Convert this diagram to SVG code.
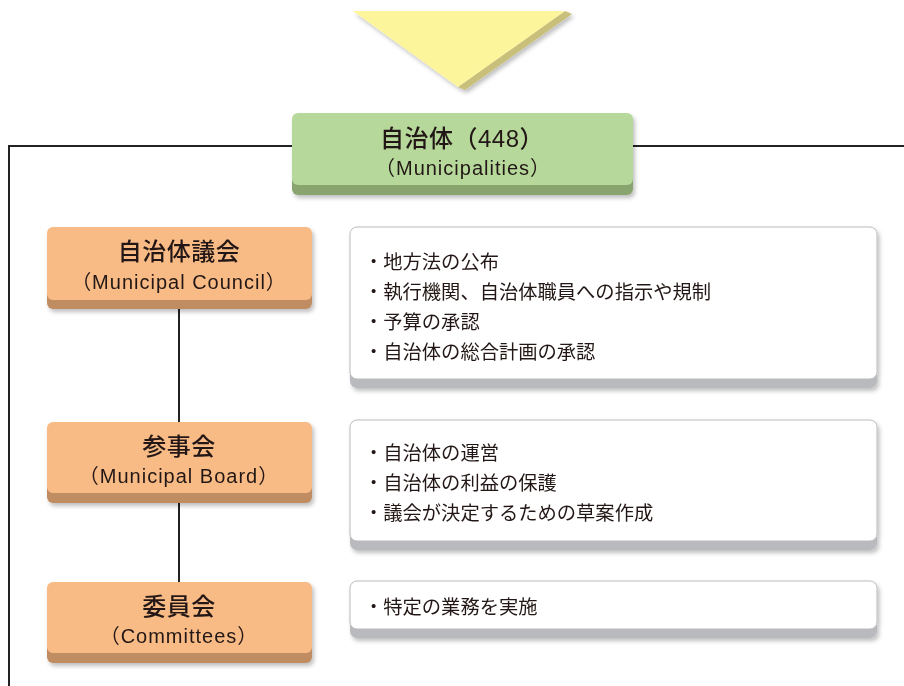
<svg xmlns="http://www.w3.org/2000/svg" width="904" height="686" viewBox="0 0 904 686">
<defs>
<filter id="ds" x="-10%" y="-20%" width="120%" height="150%">
<feDropShadow dx="2" dy="3" stdDeviation="2" flood-color="#000" flood-opacity="0.25"/>
</filter>
<style>
text{font-family:"Noto Sans CJK JP","Noto Sans",sans-serif;fill:#231815;text-anchor:middle;dominant-baseline:central}
.t1{font-size:24px;font-weight:500;font-family:"Liberation Sans","Noto Sans CJK JP",sans-serif;letter-spacing:0.5px}
.t2{font-size:20px;font-family:"Liberation Sans","Noto Sans CJK JP",sans-serif;letter-spacing:1px}
.li{font-size:19.3px;text-anchor:start}
.ln{stroke:#222;stroke-width:2;fill:none}
.gf{fill:#b6d99b}
.gs{fill:#89a46e}
.of{fill:#f8bb86}
.os{fill:#c08d64}
.wf{fill:#fff;stroke:#bbb;stroke-width:1}
.ws{fill:#b9babe}
</style>
</defs>
<g id="arrow" filter="url(#ds)">
<polygon points="565,11 572,14 465,90 458,87" fill="#c8bf7a"/>
<polygon points="353,11 565,11 458,87" fill="#fdf59c"/>
</g>
<g id="connectors">
<path class="ln" d="M9,686 V146 H292"/>
<path class="ln" d="M633,146 H904"/>
<path class="ln" d="M179,309 V422"/>
<path class="ln" d="M179,503 V582"/>
</g>
<g id="municipalities" filter="url(#ds)">
<rect class="gs" x="292" y="122" width="341" height="73" rx="6"/>
<rect class="gf" x="292" y="113" width="341" height="72" rx="6"/>
<text class="t1" x="462" y="138">自治体（448）</text>
<text class="t2" x="463" y="168">（Municipalities）</text>
</g>
<g id="council" filter="url(#ds)">
<rect class="os" x="47" y="236" width="265" height="73" rx="6"/>
<rect class="of" x="47" y="227" width="265" height="73" rx="6"/>
<text class="t1" x="179" y="251">自治体議会</text>
<text class="t2" x="179" y="282">（Municipal Council）</text>
</g>
<g id="council-desc" filter="url(#ds)">
<rect class="ws" x="350" y="236" width="527" height="152" rx="7"/>
<rect class="wf" x="350" y="227" width="527" height="152" rx="7"/>
<text class="li" x="364" y="261">・地方法の公布</text>
<text class="li" x="364" y="291">・執行機関、自治体職員への指示や規制</text>
<text class="li" x="364" y="321">・予算の承認</text>
<text class="li" x="364" y="351">・自治体の総合計画の承認</text>
</g>
<g id="board" filter="url(#ds)">
<rect class="os" x="47" y="431" width="265" height="72" rx="6"/>
<rect class="of" x="47" y="422" width="265" height="71" rx="6"/>
<text class="t1" x="179" y="446">参事会</text>
<text class="t2" x="179" y="476">（Municipal Board）</text>
</g>
<g id="board-desc" filter="url(#ds)">
<rect class="ws" x="350" y="429" width="527" height="121" rx="7"/>
<rect class="wf" x="350" y="420" width="527" height="121" rx="7"/>
<text class="li" x="364" y="452">・自治体の運営</text>
<text class="li" x="364" y="482">・自治体の利益の保護</text>
<text class="li" x="364" y="512">・議会が決定するための草案作成</text>
</g>
<g id="committees" filter="url(#ds)">
<rect class="os" x="47" y="591" width="265" height="72" rx="6"/>
<rect class="of" x="47" y="582" width="265" height="71" rx="6"/>
<text class="t1" x="179" y="606">委員会</text>
<text class="t2" x="179" y="636">（Committees）</text>
</g>
<g id="committees-desc" filter="url(#ds)">
<rect class="ws" x="350" y="590" width="527" height="48" rx="7"/>
<rect class="wf" x="350" y="581" width="527" height="48" rx="7"/>
<text class="li" x="364" y="606">・特定の業務を実施</text>
</g>
</svg>
